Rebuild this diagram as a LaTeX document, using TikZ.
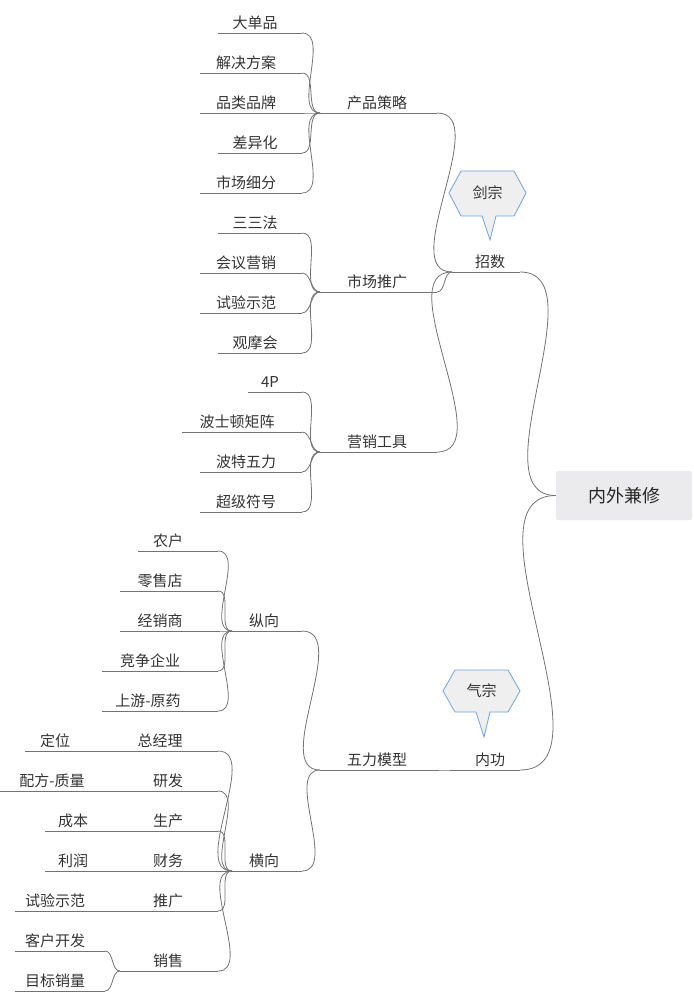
\documentclass[tikz,border=0pt]{standalone}
\usepackage{fontspec}
\setmainfont{Noto Sans CJK SC}
\begin{document}
\begin{tikzpicture}[x=1pt,y=-1pt,
  t/.style={inner sep=0pt,minimum height=18pt,anchor=south,font=\fontsize{15}{18}\selectfont,text=black!80},
  ln/.style={draw=black!55,line width=0.8pt},
  cn/.style={ln,out=180,in=0,looseness=0.9},
  call/.style={draw=cyan!60!blue!60,fill=blue!5!gray!12,line width=0.8pt}]
\useasboundingbox (0,0) rectangle (693,992);
% node macro: name, left, right, underline y, text center x, text
\newcommand\mnode[6]{\node[t,minimum width=0pt] (#1) at (#5,#4-1) {#6};
  \coordinate (#1L) at (#2,#4); \coordinate (#1R) at (#3,#4);
  \draw[ln] (#1L)--(#1R);}
% root
\node[draw=none,fill=blue!6!gray!15,rounded corners=2pt,minimum width=136pt,minimum height=49pt,font=\fontsize{18}{22}\selectfont,text=black!85] (root) at (624,495.5) {内外兼修};
% level 1
\mnode{zs}{452}{520}{272}{490}{招数}
\mnode{ng}{452}{520}{770}{490}{内功}
\draw[cn,in=0] (root.west) to[out=180,in=0] (zsR);
\draw[cn] (root.west) to[out=180,in=0] (ngR);
% callouts
\draw[call] (449,193)--(461,171)--(514,171)--(526,193)--(514,216)--(496,216)--(490,240)--(482,216)--(461,216)--cycle;
\node[font=\fontsize{15}{18}\selectfont,text=black!80] (jz) at (487.5,193) {剑宗};
\draw[call] (443,691)--(455,670)--(508,670)--(520,691)--(508,712)--(490,712)--(484,737)--(476,712)--(455,712)--cycle;
\node[font=\fontsize{15}{18}\selectfont,text=black!80] (qz) at (481.5,691) {气宗};
% level 2
\mnode{cp}{320}{437}{113}{377}{产品策略}
\mnode{sc}{320}{437}{292}{377}{市场推广}
\mnode{yx}{320}{437}{452}{377}{营销工具}
\mnode{wl}{320}{437}{770}{377}{五力模型}
\foreach \c in {cp,sc,yx} \draw[cn] (zsL) to (\c R);
\draw[cn] (ngL) to (wlR);
% 产品策略
\mnode{a1}{218}{302}{33}{255}{大单品}
\mnode{a2}{200}{302}{73}{246}{解决方案}
\mnode{a3}{200}{302}{113}{246}{品类品牌}
\mnode{a4}{218}{302}{153}{255}{差异化}
\mnode{a5}{200}{302}{193}{246}{市场细分}
\foreach \c in {a1,a2,a3,a4,a5} \draw[cn] (cpL) to (\c R);
% 市场推广
\mnode{b1}{218}{302}{233}{255}{三三法}
\mnode{b2}{200}{302}{273}{246}{会议营销}
\mnode{b3}{200}{302}{313}{246}{试验示范}
\mnode{b4}{218}{302}{353}{255}{观摩会}
\foreach \c in {b1,b2,b3,b4} \draw[cn] (scL) to (\c R);
% 营销工具
\mnode{c1}{248}{302}{392}{270}{4P}
\mnode{c2}{182}{302}{432}{237}{波士顿矩阵}
\mnode{c3}{200}{302}{472}{246}{波特五力}
\mnode{c4}{200}{302}{512}{246}{超级符号}
\foreach \c in {c1,c2,c3,c4} \draw[cn] (yxL) to (\c R);
% 五力模型
\mnode{zx}{232}{302}{631}{264}{纵向}
\mnode{hx}{232}{302}{871}{264}{横向}
\draw[cn] (wlL) to (zxR);
\draw[cn] (wlL) to (hxR);
% 纵向
\mnode{d1}{138}{218}{551}{168}{农户}
\mnode{d2}{120}{218}{591}{160}{零售店}
\mnode{d3}{120}{218}{631}{160}{经销商}
\mnode{d4}{102}{218}{671}{150}{竞争企业}
\mnode{d5}{102}{218}{711}{148}{上游-原药}
\foreach \c in {d1,d2,d3,d4,d5} \draw[cn] (zxL) to (\c R);
% 横向
\mnode{e1}{120}{218}{751}{160}{总经理}
\mnode{e2}{120}{218}{791}{168}{研发}
\mnode{e3}{120}{218}{831}{168}{生产}
\mnode{e4}{120}{218}{871}{168}{财务}
\mnode{e5}{120}{218}{911}{168}{推广}
\mnode{e6}{120}{218}{971}{168}{销售}
\foreach \c in {e1,e2,e3,e4,e5,e6} \draw[cn] (hxL) to (\c R);
\mnode{f1}{25}{120}{751}{55}{定位}
\mnode{f2}{0}{120}{791}{52}{配方-质量}
\mnode{f3}{45}{120}{831}{73}{成本}
\mnode{f4}{45}{120}{871}{73}{利润}
\mnode{f5}{15}{120}{911}{55}{试验示范}
\mnode{g1}{15}{105}{951}{55}{客户开发}
\mnode{g2}{15}{105}{991}{55}{目标销量}
\draw[cn] (e6L) to (g1R);
\draw[cn] (e6L) to (g2R);
\end{tikzpicture}
\end{document}
